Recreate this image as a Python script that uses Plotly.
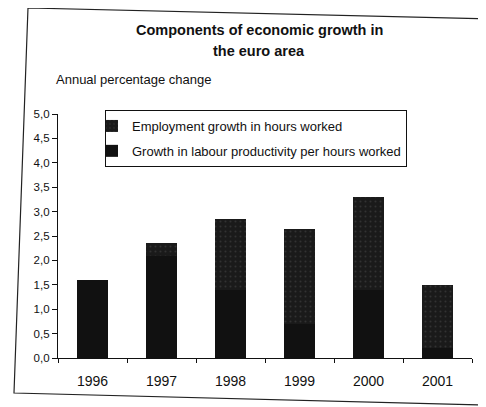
import plotly.graph_objects as go

years = ["1996", "1997", "1998", "1999", "2000", "2001"]
productivity = [1.6, 2.1, 1.4, 0.7, 1.4, 0.2]
employment = [0.0, 0.25, 1.45, 1.95, 1.9, 1.3]
y_ticks = [0, 0.5, 1, 1.5, 2, 2.5, 3, 3.5, 4, 4.5, 5]
y_ticklabels = ["0,0", "0,5", "1,0", "1,5", "2,0", "2,5", "3,0", "3,5", "4,0", "4,5", "5,0"]

# page body has an 8px margin; plot area in window pixels: x 58..472, y 114..358
PX0, PX1, PY0, PY1 = 58, 472, 114, 358


def px(x):
    return (x - PX0) / (PX1 - PX0)


def py(y):
    return (PY1 - y) / (PY1 - PY0)


fig = go.Figure()
fig.add_trace(go.Bar(
    x=years, y=productivity, name="Growth in labour productivity per hours worked",
    legendgroup="prod", legendrank=2,
    marker=dict(color="#111111", line=dict(width=0)),
))
fig.add_trace(go.Bar(
    x=years, y=employment, name="Employment growth in hours worked",
    legendgroup="emp", legendrank=1,
    marker=dict(color="#1a1a1a", line=dict(width=0),
                pattern=dict(shape=".", fgcolor="#4a4a4a", bgcolor="#1a1a1a", size=5, solidity=0.12)),
))

frame_pts = [(28, 8), (492, 19), (481, 405), (14, 393)]
frame_path = "M " + " L ".join(f"{px(a):.4f},{py(b):.4f}" for a, b in frame_pts) + " Z"

fig.update_layout(
    barmode="stack",
    bargap=0.565,
    width=478, height=399,
    margin=dict(l=PX0 - 8, r=486 - PX1, t=PY0 - 8, b=407 - PY1),
    paper_bgcolor="white", plot_bgcolor="white",
    font=dict(family="Liberation Sans, Arial, sans-serif", color="#111111", size=11),
    showlegend=True,
    legend=dict(
        x=px(105), y=py(110), xanchor="left", yanchor="top",
        traceorder="grouped", tracegroupgap=5,
        bgcolor="white", bordercolor="#111111", borderwidth=1,
        font=dict(size=13), itemwidth=30, indentation=-14,
    ),
    annotations=[
        dict(text="<b>Components of economic growth in</b>",
             xref="paper", yref="paper", x=px(259), y=py(30), xanchor="center", yanchor="middle",
             showarrow=False, font=dict(size=14.5)),
        dict(text="<b>the euro area</b>",
             xref="paper", yref="paper", x=px(259), y=py(51), xanchor="center", yanchor="middle",
             showarrow=False, font=dict(size=14.5)),
        dict(text="Annual percentage change", xref="paper", yref="paper",
             x=px(54), y=py(80), xanchor="left", yanchor="middle", showarrow=False,
             font=dict(size=13)),
    ],
    shapes=[
        dict(type="path", xref="paper", yref="paper", path=frame_path,
             line=dict(color="#222222", width=1.2), fillcolor="rgba(0,0,0,0)", layer="below"),
    ],
)

fig.update_xaxes(
    showline=True, linecolor="#111111", linewidth=1.2,
    ticks="outside", ticklen=4, tickcolor="#111111", tickson="boundaries",
    tickfont=dict(size=14, family="Liberation Sans, Arial, sans-serif"),
    ticklabelstandoff=10,
    showgrid=False,
)
fig.update_yaxes(
    range=[0, 5], tickvals=y_ticks, ticktext=y_ticklabels,
    showline=True, linecolor="#111111", linewidth=1.2,
    ticks="outside", ticklen=5, tickcolor="#111111",
    showgrid=False, zeroline=False,
    tickfont=dict(size=11.5),
)

fig.write_html("out.html")
